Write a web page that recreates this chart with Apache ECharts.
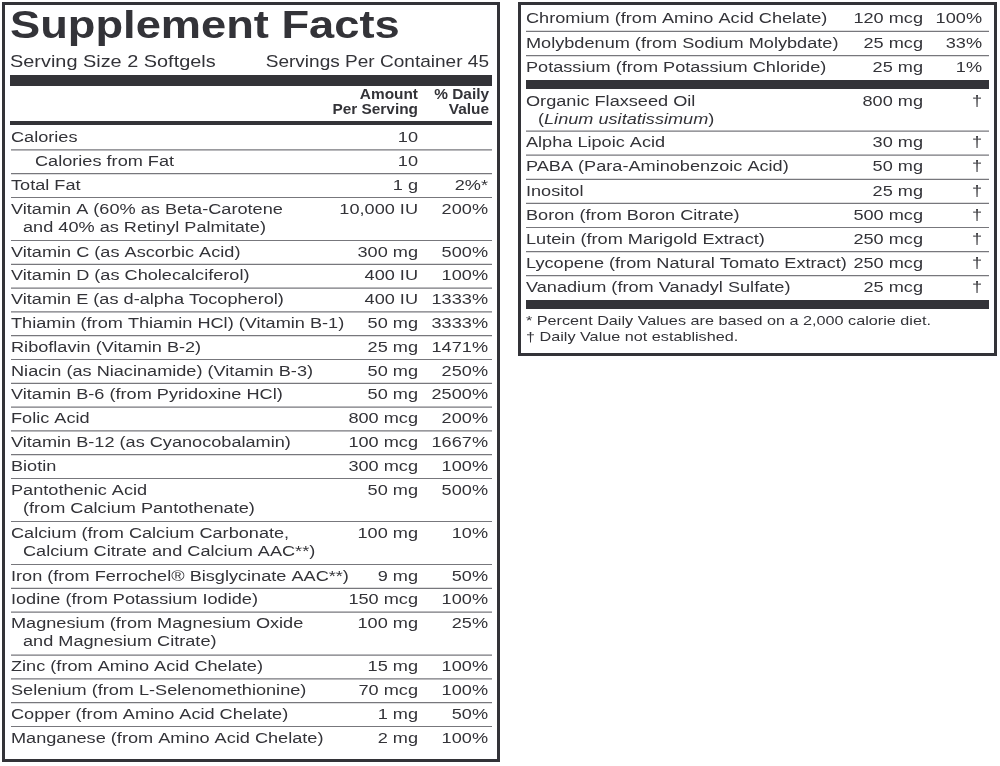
<!DOCTYPE html>
<html><head><meta charset="utf-8">
<script src="https://cdn.jsdelivr.net/npm/echarts@6/dist/echarts.min.js"></script>
<style>html,body{margin:0;padding:0;background:#fff}#c{width:1000px;height:766px}</style>
</head><body><div id="c"></div>
<script>
var title = "Supplement Facts";
var servingSize = "Serving Size 2 Softgels";
var servingsPer = "Servings Per Container 45";
var headers = [["Amount", "Per Serving"], ["% Daily", "Value"]];
var leftNames = [["Calories"],["Calories from Fat"],["Total Fat"],["Vitamin A (60% as Beta-Carotene","and 40% as Retinyl Palmitate)"],["Vitamin C (as Ascorbic Acid)"],["Vitamin D (as Cholecalciferol)"],["Vitamin E (as d-alpha Tocopherol)"],["Thiamin (from Thiamin HCl) (Vitamin B-1)"],["Riboflavin (Vitamin B-2)"],["Niacin (as Niacinamide) (Vitamin B-3)"],["Vitamin B-6 (from Pyridoxine HCl)"],["Folic Acid"],["Vitamin B-12 (as Cyanocobalamin)"],["Biotin"],["Pantothenic Acid","(from Calcium Pantothenate)"],["Calcium (from Calcium Carbonate,","Calcium Citrate and Calcium AAC**)"],["Iron (from Ferrochel® Bisglycinate AAC**)"],["Iodine (from Potassium Iodide)"],["Magnesium (from Magnesium Oxide","and Magnesium Citrate)"],["Zinc (from Amino Acid Chelate)"],["Selenium (from L-Selenomethionine)"],["Copper (from Amino Acid Chelate)"],["Manganese (from Amino Acid Chelate)"]];
var leftAmounts = ["10","10","1 g","10,000 IU","300 mg","400 IU","400 IU","50 mg","25 mg","50 mg","50 mg","800 mcg","100 mcg","300 mcg","50 mg","100 mg","9 mg","150 mcg","100 mg","15 mg","70 mcg","1 mg","2 mg"];
var leftDV = ["","","2%*","200%","500%","100%","1333%","3333%","1471%","250%","2500%","200%","1667%","100%","500%","10%","50%","100%","25%","100%","100%","50%","100%"];
var rightTopNames = [["Chromium (from Amino Acid Chelate)"],["Molybdenum (from Sodium Molybdate)"],["Potassium (from Potassium Chloride)"]];
var rightTopAmounts = ["120 mcg","25 mcg","25 mg"];
var rightTopDV = ["100%","33%","1%"];
var rightNames = [["Organic Flaxseed Oil","(Linum usitatissimum)"],["Alpha Lipoic Acid"],["PABA (Para-Aminobenzoic Acid)"],["Inositol"],["Boron (from Boron Citrate)"],["Lutein (from Marigold Extract)"],["Lycopene (from Natural Tomato Extract)"],["Vanadium (from Vanadyl Sulfate)"]];
var rightAmounts = ["800 mg","30 mg","50 mg","25 mg","500 mcg","250 mcg","250 mcg","25 mcg"];
var rightDV = ["†","†","†","†","†","†","†","†"];
var footnotes = ["* Percent Daily Values are based on a 2,000 calorie diet.","† Daily Value not established."];

var C='#333338', F='Liberation Sans, Arial, sans-serif', FS=15.5, SX=1.17;
var g=[];
function txt(x,y,s,o){o=o||{};var st={text:s,fill:C,font:(o.it?'italic ':'')+(o.b?'bold ':'')+(o.fs||FS)+'px '+F,textAlign:o.al||'left',textVerticalAlign:'middle'};
  if(o.rich)st.rich=o.rich;
  g.push({type:'text',x:x,y:y,scaleX:o.sx||SX,silent:true,style:st});}
function rect(x,y,w,h,fill){g.push({type:'rect',shape:{x:x,y:y,width:w,height:h},style:{fill:fill||C}});}
function box(x,y,w,h){g.push({type:'rect',shape:{x:x,y:y,width:w,height:h},style:{fill:'none',stroke:C,lineWidth:3}});}
function rows(names,amts,dvs,x0,x1,ax,dx,y,sh,dh){
  for(var i=0;i<names.length;i++){
    var n=names[i],h=n.length>1?dh:sh;
    var ind=(names===leftNames&&i===1)?24:0;
    var cy=y+sh/2;
    txt(x0+ind,cy,n[0]);
    if(n.length>1){
      if(n[1].indexOf('Linum')>0){
        txt(x0+12,cy+18,'({i|'+n[1].slice(1,-1)+'})',{rich:{i:{font:'italic '+FS+'px '+F,fill:C}}});
      } else txt(x0+12,cy+18,n[1]);
    }
    txt(ax,cy,amts[i],{al:'right'});
    if(dvs[i]==='†') txt(dx-5,cy,'†',{al:'center'}); else txt(dx,cy,dvs[i],{al:'right'});
    y+=h;
    if(i<names.length-1) rect(x0,y-0.5,x1-x0,1.2,'#77777c');
  }
  return y;
}
box(3.5,3.5,495,757);
txt(10,27,title,{b:true,fs:39,sx:1.16});
txt(10,62,servingSize,{fs:17});
txt(489,62,servingsPer,{fs:17,al:'right',sx:1.12});
rect(10,75,482,11);
txt(418,95,headers[0][0],{b:true,fs:14,al:'right',sx:1.1});
txt(418,110,headers[0][1],{b:true,fs:14,al:'right',sx:1.1});
txt(489,95,headers[1][0],{b:true,fs:14,al:'right',sx:1.1});
txt(489,110,headers[1][1],{b:true,fs:14,al:'right',sx:1.1});
rect(10,121,482,4);
rows(leftNames,leftAmounts,leftDV,11,492,418,488,126,23.8,43);
box(519.5,3.5,476,351);
rows(rightTopNames,rightTopAmounts,rightTopDV,526,989,923,982,7,24.3,41);
rect(526,80,463,9);
rows(rightNames,rightAmounts,rightDV,526,989,923,982,90,24.1,41);
rect(526,300,463,9);
txt(526,321,footnotes[0],{fs:13.5,sx:1.2});
txt(526,337,footnotes[1],{fs:13.5,sx:1.2});

var chart=echarts.init(document.getElementById('c'));
chart.setOption({animation:false,graphic:{elements:g}});
</script></body></html>
